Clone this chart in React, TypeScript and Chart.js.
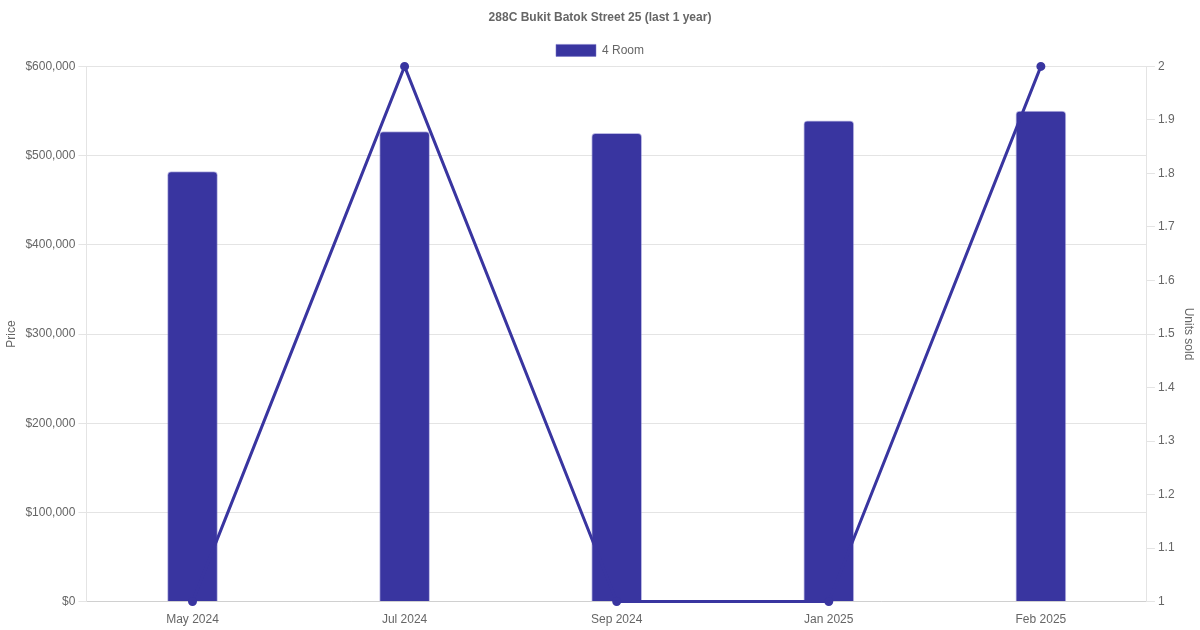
import React, { useEffect, useRef } from "react";
import { Chart, registerables } from "chart.js";

Chart.register(...registerables);

const categories = ["May 2024", "Jul 2024", "Sep 2024", "Jan 2025", "Feb 2025"];
const priceValues = [482000, 527000, 525000, 539000, 550000];
const unitsSold = [1, 2, 1, 1, 2];
const seriesLabel = "4 Room";
const titleText = "288C Bukit Batok Street 25 (last 1 year)";

const COLOR = "#3935a0";

export default function App() {
  const ref = useRef<HTMLCanvasElement | null>(null);

  useEffect(() => {
    document.body.style.margin = "0";
    if (!ref.current) return;
    Chart.defaults.color = "#666";
    const chart = new Chart(ref.current, {
      data: {
        labels: categories,
        datasets: [
          {
            type: "line",
            label: "Units sold",
            data: unitsSold,
            yAxisID: "y1",
            borderColor: COLOR,
            backgroundColor: COLOR,
            borderWidth: 3,
            pointRadius: 3,
            pointHoverRadius: 4,
            tension: 0,
            clip: false,
            order: 0,
          },
          {
            type: "bar",
            label: seriesLabel,
            data: priceValues,
            yAxisID: "y",
            backgroundColor: COLOR,
            borderColor: "rgba(120,116,200,0.5)",
            borderWidth: 1,
            borderRadius: 4,
            borderSkipped: "bottom",
            barThickness: 50,
            order: 1,
          },
        ],
      },
      options: {
        responsive: false,
        animation: false,
        maintainAspectRatio: false,
        plugins: {
          title: {
            display: true,
            text: titleText,
            color: "#666",
            font: { size: 12, weight: "bold" },
            padding: { top: 10, bottom: 10 },
          },
          legend: {
            display: true,
            labels: {
              filter: (item) => item.text === seriesLabel,
              color: "#666",
              font: { size: 12 },
              boxWidth: 40,
            },
          },
          tooltip: { enabled: false },
        },
        scales: {
          x: {
            grid: { drawOnChartArea: false, drawTicks: true, tickColor: "rgba(0,0,0,0)", color: "#e4e4e4" },
            border: { color: "#d0d0d0" },
            ticks: { color: "#666", font: { size: 12 } },
          },
          y: {
            position: "left",
            min: 0,
            max: 600000,
            ticks: {
              stepSize: 100000,
              color: "#666",
              font: { size: 12 },
              callback: (v) => "$" + Number(v).toLocaleString("en-US"),
            },
            grid: { color: "#e4e4e4" },
            border: { color: "#e4e4e4" },
            title: { display: true, text: "Price", color: "#666", font: { size: 12 } },
          },
          y1: {
            position: "right",
            min: 1,
            max: 2,
            ticks: {
              stepSize: 0.1,
              color: "#666",
              font: { size: 12 },
              callback: (v) => String(parseFloat(Number(v).toFixed(1))),
            },
            grid: { drawOnChartArea: false, color: "#e4e4e4" },
            border: { color: "#e4e4e4" },
            title: { display: true, text: "Units sold", color: "#666", font: { size: 12 } },
          },
        },
      },
    } as any);
    return () => chart.destroy();
  }, []);

  return (
    <div style={{ width: 1200, height: 630 }}>
      <canvas ref={ref} width={1200} height={630} style={{ width: 1200, height: 630 }} />
    </div>
  );
}
